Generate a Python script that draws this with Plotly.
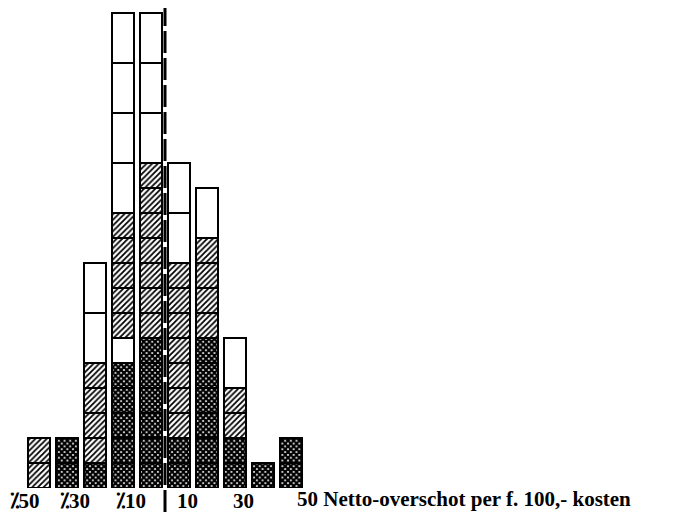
import plotly.graph_objects as go

# class midpoints (bins of 10)
bin_mid = [-45, -35, -25, -15, -5, 5, 15, 25, 35, 45]

# counts per bin, bottom to top
dark = [0, 2, 1, 5, 6, 2, 6, 2, 1, 2]
light = [0, 0, 0, 1, 0, 0, 0, 0, 0, 0]
hatch = [2, 0, 4, 5, 7, 7, 4, 2, 0, 0]
white = [0, 0, 4, 8, 6, 4, 2, 2, 0, 0]

tick_vals = [-50, -30, -10, 10, 30]
tick_text = ["⁒50", "⁒30", "⁒10", "10", "30"]
axis_title = "50 Netto-overschot per f. 100,- kosten"

FONT = dict(family='Liberation Serif', size=21, color='black', weight='bold')

STYLE = {
    'dark': dict(shape='x', fg='black', bg='white', solidity=0.8),
    'hatch': dict(shape='/', fg='black', bg='white', solidity=0.45),
    'light': dict(shape='', fg='black', bg='white', solidity=0.2),
    'white': dict(shape='', fg='black', bg='white', solidity=0.2),
}

# split each bar into cells (white cells span two units)
cells = []
for i in range(len(bin_mid)):
    c = [('dark', 1)] * dark[i] + [('light', 1)] * light[i] + [('hatch', 1)] * hatch[i]
    c += [('white', 2)] * (white[i] // 2)
    cells.append(c)

n_layers = max(len(c) for c in cells)

fig = go.Figure()
for j in range(n_layers):
    ys, shapes, fgs, bgs, sols = [], [], [], [], []
    for c in cells:
        if j < len(c):
            kind, h = c[j]
            s = STYLE[kind]
            ys.append(h)
        else:
            s = STYLE['white']
            ys.append(None)
        shapes.append(s['shape'])
        fgs.append(s['fg'])
        bgs.append(s['bg'])
        sols.append(s['solidity'])
    fig.add_trace(go.Bar(
        x=bin_mid, y=ys, width=7.9,
        marker=dict(
            color='white',
            line=dict(color='black', width=1.5),
            pattern=dict(shape=shapes, fgcolor=fgs, bgcolor=bgs,
                         solidity=sols, size=4, fillmode='replace'),
        ),
        showlegend=False, hoverinfo='skip',
    ))

# dashed line at zero
fig.add_shape(type='line', x0=0, x1=0, y0=-0.05, y1=1.02, xref='x', yref='paper',
              line=dict(color='black', width=3, dash='22px,5px'))

fig.add_annotation(x=50, y=0, xref='x', yref='y', text=axis_title, showarrow=False,
                   xanchor='left', yanchor='middle', xshift=-10, yshift=-11,
                   font=FONT)

# page body has an 8px margin, so the figure is sized to fit the window
fig.update_layout(
    width=684, height=508,
    margin=dict(l=0, r=0, t=0, b=28),
    barmode='stack',
    plot_bgcolor='white', paper_bgcolor='white',
    font=FONT,
)
# labels sit a little left of their class boundary in the original
label_pos = [tick_vals[0]] + [v - 2 for v in tick_vals[1:]]
fig.update_xaxes(range=[-56.07, 188.2], tickvals=label_pos, ticktext=tick_text,
                 showgrid=False, zeroline=False, showline=False, ticks='', ticklen=0,
                 ticklabelstandoff=-2, automargin=False, tickfont=FONT)
fig.update_yaxes(range=[0, 19.2], visible=False, showgrid=False, zeroline=False)

fig.write_html("out.html")
